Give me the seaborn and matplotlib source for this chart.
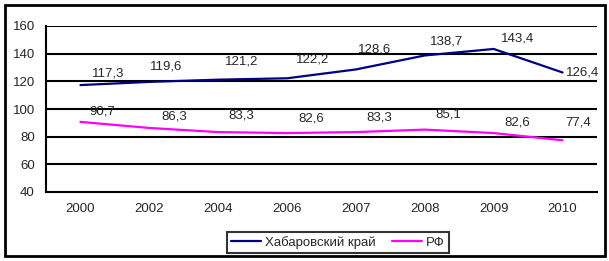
import matplotlib
matplotlib.use("Agg")
import matplotlib.pyplot as plt
import seaborn as sns
import pandas as pd
from matplotlib.patches import Rectangle

years = ["2000", "2002", "2004", "2006", "2007", "2008", "2009", "2010"]
khabarovsk = [117.3, 119.6, 121.2, 122.2, 128.6, 138.7, 143.4, 126.4]
rf = [90.7, 86.3, 83.3, 82.6, 83.3, 85.1, 82.6, 77.4]
series_names = ["Хабаровский край", "РФ"]
yticks = [40, 60, 80, 100, 120, 140, 160]

# label offsets (pixels) relative to each point
khab_offsets = [(28, 12), (17, 15), (23, 18), (26, 19), (19, 20), (22, 14), (24, 10), (20, 0)]
rf_offsets = [(22, 10), (25, 11), (23, 17), (24, 15), (23, 15), (24, 15), (24, 11), (16, 18)]

sns.set_style("white")
plt.rcParams["font.family"] = ["Liberation Sans", "DejaVu Sans"]
plt.rcParams["font.size"] = 9.5

df = pd.DataFrame({
    "pos": list(range(len(years))) * 2,
    "value": khabarovsk + rf,
    "series": [series_names[0]] * len(years) + [series_names[1]] * len(years),
})

fig = plt.figure(figsize=(6.09, 2.61), dpi=100)
ax = fig.add_axes([46 / 609, 1 - 192 / 261, (597 - 46) / 609, (192 - 26) / 261])

palette = {series_names[0]: "#000080", series_names[1]: "#FF00FF"}
sns.lineplot(data=df, x="pos", y="value", hue="series", palette=palette,
             linewidth=1.6, ax=ax, legend=True)

ax.set_xlim(-0.5, len(years) - 0.5)
ax.set_ylim(40, 160)
ax.set_yticks(yticks)
ax.set_yticklabels([str(t) for t in yticks])
ax.set_xticks(range(len(years)))
ax.set_xticklabels(years)
ax.set_xticks([i - 0.5 for i in range(len(years) + 1)], minor=True)
ax.tick_params(axis="x", which="major", length=0, pad=8, labelsize=9.5)
ax.tick_params(axis="x", which="minor", length=4, width=1.5, direction="out", color="black")
ax.tick_params(axis="y", length=4, width=1.5, direction="out", color="black", pad=4, labelsize=9.5)
ax.set_xlabel("")
ax.set_ylabel("")

for t in yticks[1:]:
    ax.axhline(t, color="black", linewidth=1.5, zorder=0)

for s in ["top", "right"]:
    ax.spines[s].set_visible(False)
for s in ["left", "bottom"]:
    ax.spines[s].set_color("black")
    ax.spines[s].set_linewidth(1.5)

for vals, offs in ((khabarovsk, khab_offsets), (rf, rf_offsets)):
    for i, v in enumerate(vals):
        ax.annotate(f"{v:.1f}".replace(".", ","), xy=(i, v), xytext=offs[i],
                    textcoords="offset pixels", ha="center", va="center", fontsize=9.5)

handles, labels = ax.get_legend_handles_labels()
ax.get_legend().remove()
leg = fig.legend(handles, labels, loc="center", bbox_to_anchor=(338 / 609, 1 - 242.5 / 261),
                 ncol=2, frameon=True, fancybox=False, fontsize=9.5, handlelength=2.3,
                 handletextpad=0.3, columnspacing=1.2, borderpad=0.3)
leg.get_frame().set_edgecolor("black")
leg.get_frame().set_linewidth(1.5)

fig.patches.append(Rectangle((5 / 609, 1 - 256 / 261), 600 / 609, 251 / 261,
                             transform=fig.transFigure, fill=False,
                             edgecolor="black", linewidth=2))

fig.savefig("out.png", dpi=100)
